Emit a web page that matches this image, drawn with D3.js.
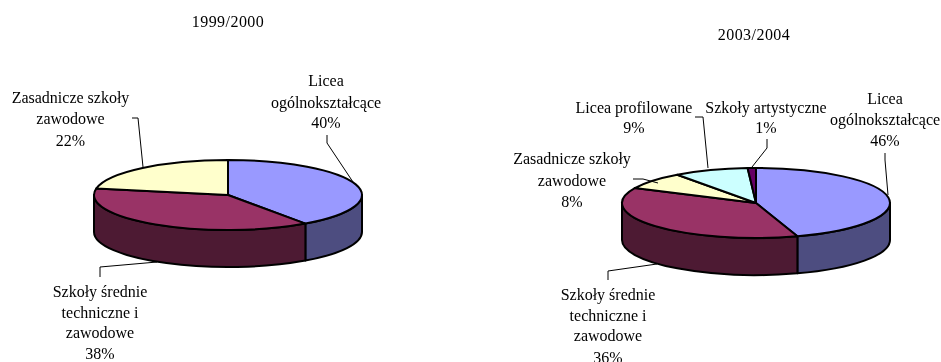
<!DOCTYPE html>
<html><head><meta charset="utf-8">
<script src="https://cdn.jsdelivr.net/npm/d3@7"></script>
<style>html,body{margin:0;padding:0;background:#fff}svg{display:block;filter:blur(.35px)}
text{font-family:"Liberation Serif",serif;font-size:16px;fill:#000;text-anchor:middle}
text.title{letter-spacing:.45px}</style>
</head><body><svg width="941" height="362"></svg>
<script>
const categoriesLeft = ["Licea ogólnokształcące","Szkoły średnie techniczne i zawodowe","Zasadnicze szkoły zawodowe"];
const sharesLeft = [40.2,37.8,22];
const printedLeft = ["40%","38%","22%"];
const colorsLeft = ["#9999FF","#993366","#FFFFCC"];
const wallsLeft = ["#4D4D80","#4D1A33","#808066"];

const categoriesRight = ["Licea ogólnokształcące","Szkoły średnie techniczne i zawodowe","Zasadnicze szkoły zawodowe","Licea profilowane","Szkoły artystyczne"];
const sharesRight = [45,37,8,9,1];
const printedRight = ["46%","36%","8%","9%","1%"];
const colorsRight = ["#9999FF","#993366","#FFFFCC","#CCFFFF","#660066"];
const wallsRight = ["#4D4D80","#4D1A33","#808066","#668080","#330033"];

const svg = d3.select("svg");
const RX = 134, RY = 35, DEPTH = 37;
const FRONT_A = Math.PI/2, FRONT_B = Math.PI*3/2;

function drawPie(cx, cy, shares, colors, walls){
  const g = svg.append("g").attr("transform",`translate(${cx},${cy})`);
  const arcs = d3.pie().sort(null)(shares);
  const pt = a => [RX*Math.sin(a), -RY*Math.cos(a)];
  arcs.forEach((d,i)=>{
    const a0 = Math.max(d.startAngle,FRONT_A), a1 = Math.min(d.endAngle,FRONT_B);
    if(a1<=a0) return;
    const p0 = pt(a0), p1 = pt(a1);
    const e = `A${RX},${RY} 0 0 1 ${p1[0]},${p1[1]}`;
    const eBack = `A${RX},${RY} 0 0 0 ${p0[0]},${p0[1]+DEPTH}`;
    g.append("path")
      .attr("d",`M${p0[0]},${p0[1]}${e}L${p1[0]},${p1[1]+DEPTH}${eBack}Z`)
      .attr("fill",walls[i]).attr("stroke","#000").attr("stroke-width",2).attr("stroke-linejoin","round");
  });
  const arc = d3.arc().innerRadius(0).outerRadius(RX);
  g.selectAll("path.top").data(arcs).join("path").attr("class","top")
    .attr("d",arc).attr("transform",`scale(1,${RY/RX})`)
    .attr("fill",(d,i)=>colors[i]).attr("stroke","#000").attr("stroke-width",2)
    .attr("stroke-linejoin","round").attr("vector-effect","non-scaling-stroke");
}
function label(cx, baselines, lines, cls){
  lines.forEach((t,i)=>svg.append("text").attr("class",cls||null).attr("x",cx).attr("y",baselines[i]+1).text(t));
}
const line = d3.line();
function leader(pts){
  svg.append("path").attr("d",line(pts)).attr("fill","none").attr("stroke","#000").attr("stroke-width",1);
}

drawPie(228,195,sharesLeft,colorsLeft,wallsLeft);
drawPie(756,203,sharesRight,colorsRight,wallsRight);

label(228,[26],["1999/2000"],"title");
label(754,[39],["2003/2004"],"title");

label(326,[85,107,127],["Licea","ogólnokształcące",printedLeft[0]]);
label(70.5,[102,123,145],["Zasadnicze szkoły","zawodowe",printedLeft[2]]);
label(100,[296,317,337,358],["Szkoły średnie","techniczne i","zawodowe",printedLeft[1]]);
leader([[327,135],[327,143],[353,182]]);
leader([[132,118],[138,118],[143,167]]);
leader([[100,277],[100,267],[157,262]]);

label(885,[103,124,145],["Licea","ogólnokształcące",printedRight[0]]);
label(634,[112,132],["Licea profilowane",printedRight[3]]);
label(766,[112,132],["Szkoły artystyczne",printedRight[4]]);
label(572,[163,185,206],["Zasadnicze szkoły","zawodowe",printedRight[2]]);
label(608,[299,320,340,362],["Szkoły średnie","techniczne i","zawodowe",printedRight[1]]);
leader([[767,139],[767,148],[752,167]]);
leader([[885,153],[885,160],[888,195]]);
leader([[695,117],[703,117],[708,168]]);
leader([[633,179],[643,179],[658,183]]);
leader([[608,280],[608,271],[657,264]]);
</script></body></html>
